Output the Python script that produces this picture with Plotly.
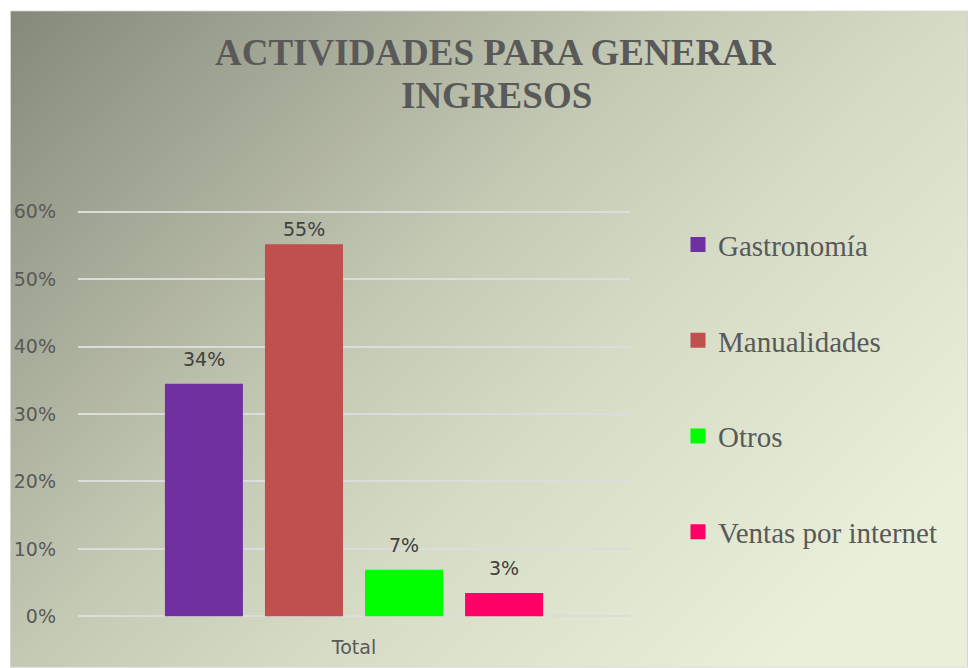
import base64
import plotly.graph_objects as go

categories = ["Total"]
series_names = ["Gastronomía", "Manualidades", "Otros", "Ventas por internet"]
series_values = [0.3448, 0.5517, 0.0690, 0.0345]
series_colors = ["#7030a0", "#c0504d", "#00ff00", "#ff0066"]
y_ticks = [0, 0.1, 0.2, 0.3, 0.4, 0.5, 0.6]
title_lines = ["ACTIVIDADES PARA GENERAR", "INGRESOS"]

W, H = 968, 668
PX_PER_UNIT = 675.0          # pixels per 100%
Y0_PIX = 616.5               # pixel row of 0%
YMIN, YMAX = -0.004, 0.604   # small padding so edge gridlines are drawn
L, R = 78, 338
T = Y0_PIX - 0.6 * PX_PER_UNIT - (YMAX - 0.6) * PX_PER_UNIT
B = H - (Y0_PIX - YMIN * PX_PER_UNIT)
pw, ph = W - L - R, H - T - B

svg = '''<svg xmlns="http://www.w3.org/2000/svg" width="958" height="658" viewBox="0 0 958 658" preserveAspectRatio="none">
<defs><linearGradient id="g" x1="0" y1="0" x2="1" y2="0.7">
<stop offset="0" stop-color="#85897a"/>
<stop offset="0.47" stop-color="#c4c9b4"/>
<stop offset="0.67" stop-color="#d5dbc5"/>
<stop offset="1" stop-color="#e9efd9"/>
</linearGradient></defs>
<rect x="0.5" y="0.5" width="957" height="657" fill="url(#g)" stroke="#d4d4d4" stroke-width="1"/>
</svg>'''
src = "data:image/svg+xml;base64," + base64.b64encode(svg.encode()).decode()


def px_to_paper_x(px):
    return (px - L) / pw


def px_to_paper_y(py):
    return (H - B - py) / ph


fig = go.Figure()
for name, val, col in zip(series_names, series_values, series_colors):
    fig.add_trace(go.Bar(
        x=categories, y=[val], name=name, marker=dict(color=col, line=dict(width=0)),
        showlegend=False, hoverinfo="name+y",
    ))
# legend entries with larger square swatches
for name, col in zip(series_names, series_colors):
    fig.add_trace(go.Scatter(
        x=[None], y=[None], mode="markers", name=name, legendgroup=name,
        marker=dict(symbol="square", size=15, color=col, line=dict(width=0)),
    ))

annotations = []
n = len(series_values)
for i, val in enumerate(series_values):
    y_lab = min(val + 25 / PX_PER_UNIT, 0.6 - 17.5 / PX_PER_UNIT)
    annotations.append(dict(
        x=categories[0], y=y_lab, xref="x", yref="y",
        xshift=(i - (n - 1) / 2) * 100, yanchor="middle", xanchor="center",
        text=f"{round(val * 100):d}%", showarrow=False,
        font=dict(family="DejaVu Sans", size=19, color="#404040"),
    ))
for j, line in enumerate(title_lines):
    annotations.append(dict(
        x=px_to_paper_x(496), y=px_to_paper_y(52 + 43 * j), xref="paper", yref="paper",
        xanchor="center", yanchor="middle", showarrow=False,
        text=f"<b>{line}</b>",
        font=dict(family="Liberation Serif", size=37, color="#595959"),
    ))

fig.update_layout(
    width=W, height=H,
    margin=dict(l=L, r=R, t=T, b=B, pad=0, autoexpand=False),
    paper_bgcolor="white", plot_bgcolor="rgba(0,0,0,0)",
    barmode="group", bargap=0.275, bargroupgap=0.22,
    images=[dict(source=src, xref="paper", yref="paper",
                 x=px_to_paper_x(10), y=px_to_paper_y(10),
                 sizex=958 / pw, sizey=658 / ph, sizing="stretch",
                 xanchor="left", yanchor="top", layer="below")],
    annotations=annotations,
    showlegend=True,
    legend=dict(x=px_to_paper_x(678), xanchor="left", y=px_to_paper_y(219), yanchor="top",
                font=dict(family="Liberation Serif", size=29, color="#595959"),
                bgcolor="rgba(0,0,0,0)", tracegroupgap=55, traceorder="grouped",
                itemsizing="trace", itemwidth=30),
    font=dict(family="DejaVu Sans", color="#595959"),
)
fig.update_yaxes(range=[YMIN, YMAX], tickvals=y_ticks, tickformat=".0%",
                 showgrid=True, gridcolor="#dcdcdc", gridwidth=1.5,
                 zeroline=False, showline=False, ticks="", automargin=False,
                 ticklabelstandoff=21,
                 tickfont=dict(family="DejaVu Sans", size=19, color="#595959"))
fig.update_xaxes(showgrid=False, showline=False, ticks="", automargin=False,
                 ticklabelstandoff=15,
                 tickfont=dict(family="DejaVu Sans", size=19, color="#595959"))

fig.write_html("out.html", config={"displayModeBar": False},
               post_script="document.body.style.margin='0';document.body.style.overflow='hidden';")
